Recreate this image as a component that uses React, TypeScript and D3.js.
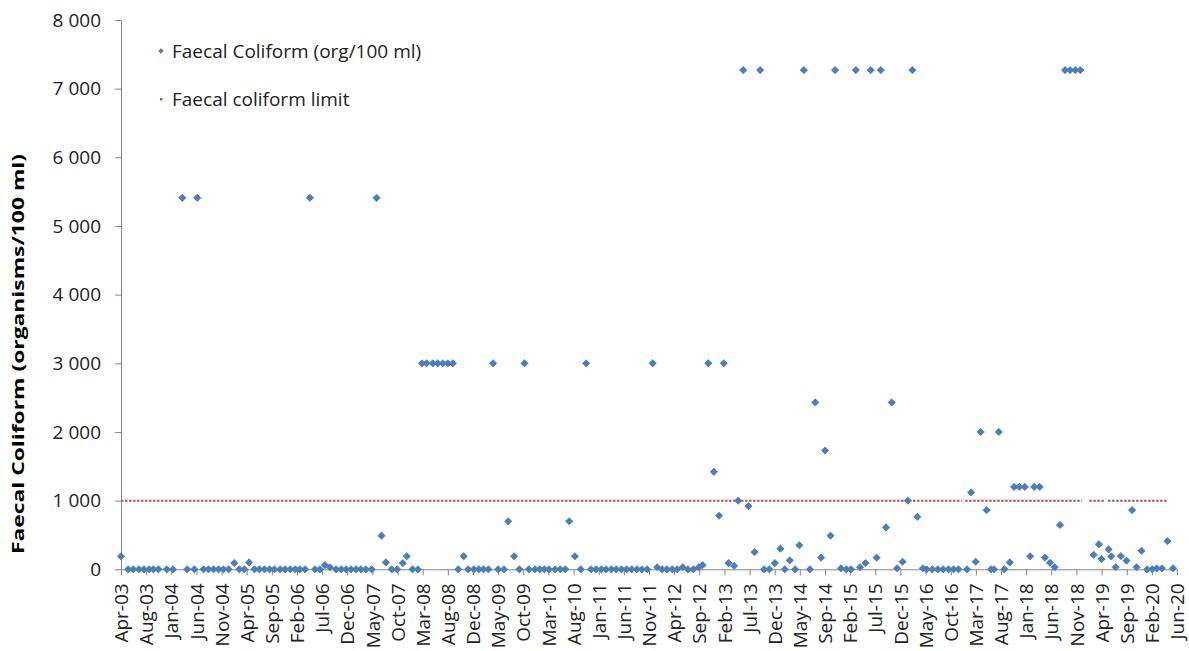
import React, { useEffect, useRef } from "react";
import * as d3 from "d3";

// ---- data -------------------------------------------------------------
const sampleDates: string[] = [
  "2003-04-01", "2003-05-14", "2003-06-13", "2003-07-17", "2003-08-16", "2003-09-16", "2003-10-11", "2003-11-10",
  "2003-12-30", "2004-02-05", "2004-04-01", "2004-04-30", "2004-06-12", "2004-06-29", "2004-08-05", "2004-09-04",
  "2004-10-04", "2004-11-03", "2004-12-02", "2005-01-02", "2005-02-05", "2005-03-07", "2005-04-06", "2005-05-04",
  "2005-06-05", "2005-07-04", "2005-08-04", "2005-09-03", "2005-10-02", "2005-11-06", "2005-12-05", "2006-01-05",
  "2006-02-04", "2006-03-03", "2006-04-03", "2006-05-02", "2006-06-01", "2006-07-01", "2006-07-31", "2006-08-30",
  "2006-10-05", "2006-11-05", "2006-12-04", "2007-01-03", "2007-02-02", "2007-03-02", "2007-04-01", "2007-05-05",
  "2007-06-04", "2007-07-03", "2007-07-29", "2007-09-02", "2007-10-05", "2007-11-07", "2007-12-01", "2008-01-04",
  "2008-02-05", "2008-03-01", "2008-03-28", "2008-05-04", "2008-06-03", "2008-07-03", "2008-08-02", "2008-09-01",
  "2008-10-03", "2008-11-05", "2008-12-01", "2009-01-04", "2009-02-03", "2009-03-02", "2009-04-01", "2009-04-29",
  "2009-05-29", "2009-07-03", "2009-07-28", "2009-09-01", "2009-10-03", "2009-11-02", "2009-11-28", "2010-01-04",
  "2010-02-01", "2010-03-01", "2010-03-28", "2010-05-04", "2010-06-04", "2010-07-04", "2010-07-27", "2010-08-30",
  "2010-10-04", "2010-11-05", "2010-12-04", "2011-01-04", "2011-02-04", "2011-03-04", "2011-04-04", "2011-05-04",
  "2011-06-04", "2011-07-04", "2011-08-04", "2011-09-04", "2011-10-04", "2011-11-04", "2011-12-07", "2012-01-03",
  "2012-02-02", "2012-03-01", "2012-04-02", "2012-05-01", "2012-06-03", "2012-07-04", "2012-08-06", "2012-09-07",
  "2012-09-30", "2012-11-03", "2012-12-06", "2013-01-06", "2013-02-03", "2013-03-03", "2013-04-06", "2013-04-30",
  "2013-05-30", "2013-06-30", "2013-08-06", "2013-09-08", "2013-10-02", "2013-11-02", "2013-12-05", "2014-01-07",
  "2014-02-02", "2014-03-04", "2014-04-05", "2014-04-30", "2014-05-27", "2014-07-02", "2014-08-03", "2014-09-07",
  "2014-09-30", "2014-11-02", "2014-11-29", "2015-01-03", "2015-02-04", "2015-03-04", "2015-04-02", "2015-04-27",
  "2015-05-30", "2015-06-30", "2015-08-04", "2015-08-29", "2015-09-29", "2015-11-02", "2015-12-04", "2016-01-06",
  "2016-02-06", "2016-03-04", "2016-04-03", "2016-05-06", "2016-05-28", "2016-07-01", "2016-08-03", "2016-09-04",
  "2016-10-06", "2016-11-05", "2016-12-04", "2017-01-24", "2017-02-18", "2017-03-17", "2017-04-16", "2017-05-21",
  "2017-06-16", "2017-07-04", "2017-08-02", "2017-09-04", "2017-10-06", "2017-11-01", "2017-12-02", "2018-01-04",
  "2018-02-05", "2018-03-01", "2018-04-03", "2018-05-04", "2018-06-03", "2018-07-01", "2018-08-02", "2018-09-01",
  "2018-10-01", "2018-11-01", "2018-12-01", "2019-02-19", "2019-03-22", "2019-04-07", "2019-05-19", "2019-06-04",
  "2019-06-30", "2019-07-31", "2019-09-03", "2019-10-06", "2019-11-02", "2019-12-01", "2020-01-04", "2020-02-04",
  "2020-03-01", "2020-04-01", "2020-05-04", "2020-06-06",
];

const faecalColiform: number[] = [
  190, 0, 0, 0, 0, 0, 0, 0,
  0, 0, 5410, 0, 0, 5410, 0, 0,
  0, 0, 0, 0, 90, 0, 0, 100,
  0, 0, 0, 0, 0, 0, 0, 0,
  0, 0, 0, 5410, 0, 0, 60, 30,
  0, 0, 0, 0, 0, 0, 0, 0,
  5410, 490, 100, 0, 0, 90, 190, 0,
  0, 3000, 3000, 3000, 3000, 3000, 3000, 3000,
  0, 190, 0, 0, 0, 0, 0, 3000,
  0, 0, 700, 190, 0, 3000, 0, 0,
  0, 0, 0, 0, 0, 0, 700, 190,
  0, 3000, 0, 0, 0, 0, 0, 0,
  0, 0, 0, 0, 0, 0, 3000, 30,
  0, 0, 0, 0, 30, 0, 0, 30,
  60, 3000, 1420, 780, 3000, 90, 50, 1000,
  7270, 920, 250, 7270, 0, 0, 90, 300,
  0, 130, 0, 350, 7270, 0, 2430, 170,
  1730, 490, 7270, 15, 0, 0, 7270, 30,
  90, 7270, 170, 7270, 610, 2430, 15, 110,
  1000, 7270, 765, 15, 0, 0, 0, 0,
  0, 0, 0, 0, 1120, 110, 2000, 860,
  0, 0, 2000, 0, 100, 1200, 1200, 1200,
  190, 1200, 1200, 170, 95, 30, 645, 7270,
  7270, 7270, 7270, 210, 365, 150, 290, 187,
  30, 192, 126, 862, 30, 270, 0, 0,
  12, 15, 410, 15,
];

const LIMIT_VALUE = 1000;
const limitSegments: [string, string][] = [
  ["2003-04-01", "2016-12-24"],
  ["2017-01-13", "2018-12-10"],
  ["2019-01-24", "2019-04-21"],
  ["2019-05-16", "2020-04-29"],
];

const yTickValues: number[] = [0, 1000, 2000, 3000, 4000, 5000, 6000, 7000, 8000];
const AXIS_START = "2003-04-01";
const TICK_STEP_DAYS = 150;
const TICK_COUNT = 43;

const seriesName = "Faecal Coliform (org/100 ml)";
const limitName = "Faecal coliform limit";
const yTitle = "Faecal Coliform (organisms/100 ml)";

// ---- styles ------------------------------------------------------------
const FONT = "'Open Sans', sans-serif";
const FS = 19;
const BLUE = "#4A7EBB";
const RED = "#C0504D";
const AXIS_GREY = "#868686";
const TEXT = "#222";

export default function App() {
  const ref = useRef<SVGSVGElement>(null);

  useEffect(() => {
    const svg = d3.select(ref.current);
    svg.selectAll("*").remove();

    const parse = d3.utcParse("%Y-%m-%d");
    const start = parse(AXIS_START)!;
    const tickDates = d3.range(TICK_COUNT).map((k) => d3.utcDay.offset(start, k * TICK_STEP_DAYS));

    const x = d3.scaleUtc().domain([start, tickDates[tickDates.length - 1]]).range([121, 1177]);
    const y = d3.scaleLinear().domain([0, 8000]).range([569.3, 20]);

    const locale = d3.formatLocale({ decimal: ".", thousands: " ", grouping: [3], currency: ["", ""] });
    const yFmt = locale.format(",");

    // y axis
    const gy = svg.append("g").attr("transform", `translate(${x.range()[0]},0)`);
    gy.call(
      d3.axisLeft(y).tickValues(yTickValues).tickSize(6).tickSizeOuter(0).tickPadding(14).tickFormat((d) => yFmt(d as number))
    );
    gy.select(".domain").attr("stroke", AXIS_GREY);
    gy.selectAll(".tick line").attr("stroke", AXIS_GREY);
    gy.selectAll(".tick text").attr("font-family", FONT).attr("font-size", FS).attr("fill", TEXT);

    // x axis
    const gx = svg.append("g").attr("transform", `translate(0,${y(0)})`);
    gx.call(
      d3.axisBottom(x).tickValues(tickDates).tickSize(6).tickSizeOuter(0).tickFormat((d) => d3.utcFormat("%b-%y")(d as Date))
    );
    gx.select(".domain").attr("stroke", AXIS_GREY);
    gx.selectAll(".tick line").attr("stroke", AXIS_GREY);
    gx.selectAll(".tick text")
      .attr("font-family", FONT)
      .attr("font-size", FS)
      .attr("fill", TEXT)
      .attr("transform", "rotate(-90)")
      .attr("text-anchor", "end")
      .attr("x", -14)
      .attr("y", 0)
      .attr("dy", "0.35em");

    // limit line
    const line = d3
      .line<[Date, number]>()
      .x((d) => x(d[0]))
      .y((d) => y(d[1]));
    svg
      .append("g")
      .selectAll("path")
      .data(limitSegments)
      .join("path")
      .attr("d", (s) => line([[parse(s[0])!, LIMIT_VALUE], [parse(s[1])!, LIMIT_VALUE]]))
      .attr("fill", "none")
      .attr("stroke", RED)
      .attr("stroke-width", 2)
      .attr("stroke-dasharray", "2.5 1.5");

    // points
    const diamond = d3.symbol().type(d3.symbolSquare).size(26)();
    const pts = sampleDates.map((s, i) => ({ date: parse(s)!, v: faecalColiform[i] }));
    svg
      .append("g")
      .selectAll("path")
      .data(pts)
      .join("path")
      .attr("d", diamond)
      .attr("transform", (d) => `translate(${x(d.date)},${y(d.v)}) rotate(45)`)
      .attr("fill", BLUE)
      .attr("stroke", BLUE)
      .attr("stroke-width", 0.8);

    // legend
    const lg = svg.append("g").attr("font-family", FONT).attr("font-size", FS).attr("fill", TEXT);
    lg.append("path")
      .attr("d", d3.symbol().type(d3.symbolSquare).size(14)())
      .attr("transform", "translate(161,51) rotate(45)")
      .attr("fill", BLUE);
    lg.append("text").attr("x", 172).attr("y", 51).attr("dy", "0.35em").text(seriesName);
    lg.append("rect").attr("x", 160).attr("y", 98).attr("width", 2.5).attr("height", 2.5).attr("fill", RED);
    lg.append("text").attr("x", 172).attr("y", 99).attr("dy", "0.35em").text(limitName);

    // y title
    svg
      .append("text")
      .attr("transform", "translate(19,354) rotate(-90)")
      .attr("text-anchor", "middle")
      .attr("dy", "0.35em")
      .attr("font-family", FONT)
      .attr("font-weight", "bold")
      .attr("font-size", 15.5)
      .attr("textLength", 400)
      .attr("lengthAdjust", "spacingAndGlyphs")
      .attr("fill", "#000")
      .text(yTitle);
  }, []);

  return (
    <div style={{ position: "absolute", left: 0, top: 0 }}>
      <svg ref={ref} width={1189} height={651} style={{ display: "block", background: "#fff" }} />
    </div>
  );
}
